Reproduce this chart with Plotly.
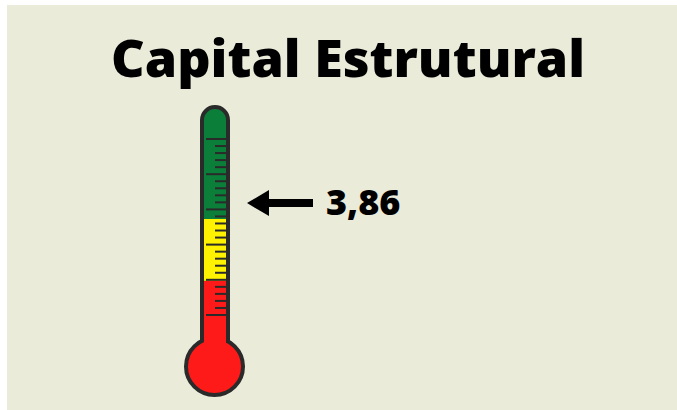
import plotly.graph_objects as go

# ---- data ----
TITLE = "Capital Estrutural"
VALUE_LABEL = "3,86"
# thermometer scale: major tick positions (scale units, 0 = lowest major tick)
MAJOR_TICKS = [0, 1, 2, 3, 4, 5]
MINOR_PER_MAJOR = 5
# colour bands in scale units (bottom, top, colour)
BANDS = [(-1.7, 0.97, "#FF1A1A"), (0.97, 2.73, "#FFF200"), (2.73, 6.0, "#0B7F3A")]
MARKER_POS = 3.18  # position of the arrow in scale units

# ---- geometry (pixel space of the canvas) ----
W, H = 677, 410
BG = "#EBEBDA"
DARK = "#2A2A2A"
Y0, STEP = 315.0, 35.2   # pixel y of scale 0 and pixels per unit


def sy(v):
    return Y0 - v * STEP


XL, XR = 202, 228       # tube wall centre lines
TOP = 107               # tube top
R = (XR - XL) / 2
CX = (XL + XR) / 2
K = 0.5523 * R
BULB_C, BULB_R = (214.5, 366.5), 28.5
TUBE_BOT = 350

tube_path = (f"M {XL},{TUBE_BOT} L {XL},{TOP+R} "
             f"C {XL},{TOP+R-K} {CX-K},{TOP} {CX},{TOP} "
             f"C {CX+K},{TOP} {XR},{TOP+R-K} {XR},{TOP+R} "
             f"L {XR},{TUBE_BOT} Z")

shapes = []
# background panel
shapes.append(dict(type="rect", x0=7, x1=W, y0=5, y1=H, fillcolor=BG, line_width=0, layer="below"))
# tube filled green
shapes.append(dict(type="path", path=tube_path, fillcolor=BANDS[2][2], line=dict(width=0)))
# bands (yellow, red)
for b0, b1, col in BANDS[:2]:
    shapes.append(dict(type="rect", x0=XL, x1=XR, y0=sy(b1), y1=min(sy(b0), TUBE_BOT),
                       fillcolor=col, line_width=0))
# tube outline
shapes.append(dict(type="path", path=tube_path, fillcolor="rgba(0,0,0,0)", line=dict(color=DARK, width=4)))
# bulb
shapes.append(dict(type="circle", x0=BULB_C[0]-BULB_R, x1=BULB_C[0]+BULB_R,
                   y0=BULB_C[1]-BULB_R, y1=BULB_C[1]+BULB_R,
                   fillcolor=BANDS[0][2], line=dict(color=DARK, width=4)))
# cover junction
shapes.append(dict(type="rect", x0=XL+2, x1=XR-2, y0=330, y1=346, fillcolor=BANDS[0][2], line_width=0))
# ticks
for i, m in enumerate(MAJOR_TICKS):
    y = sy(m)
    shapes.append(dict(type="line", x0=206, x1=226, y0=y, y1=y, line=dict(color=DARK, width=2)))
    if i < len(MAJOR_TICKS) - 1:
        for j in range(1, MINOR_PER_MAJOR):
            yy = sy(m + j / MINOR_PER_MAJOR)
            shapes.append(dict(type="line", x0=215, x1=226, y0=yy, y1=yy, line=dict(color=DARK, width=2)))
# arrow
ay = sy(MARKER_POS)
arrow = (f"M 247,{ay} L 269,{ay-13} L 269,{ay-4} L 313,{ay-4} L 313,{ay+4} "
         f"L 269,{ay+4} L 269,{ay+13} Z")
shapes.append(dict(type="path", path=arrow, fillcolor="#000000", line=dict(width=0)))

fig = go.Figure()
fig.add_trace(go.Scatter(x=[0, W], y=[0, H], mode="markers", marker=dict(opacity=0), hoverinfo="skip"))
fig.update_layout(
    width=W, height=H, margin=dict(l=0, r=0, t=0, b=0),
    paper_bgcolor="white", plot_bgcolor="white", showlegend=False,
    xaxis=dict(range=[0, W], visible=False, fixedrange=True),
    yaxis=dict(range=[H, 0], visible=False, fixedrange=True),
    shapes=shapes,
    annotations=[
        dict(x=348, y=56, text=TITLE, showarrow=False, xanchor="center", yanchor="middle",
             font=dict(family="Open Sans", size=52, color="#000000", weight=800)),
        dict(x=324, y=ay - 2, text=VALUE_LABEL, showarrow=False, xanchor="left", yanchor="middle",
             font=dict(family="Open Sans", size=36, color="#000000", weight=800)),
    ],
)
fig.write_html("out.html")
